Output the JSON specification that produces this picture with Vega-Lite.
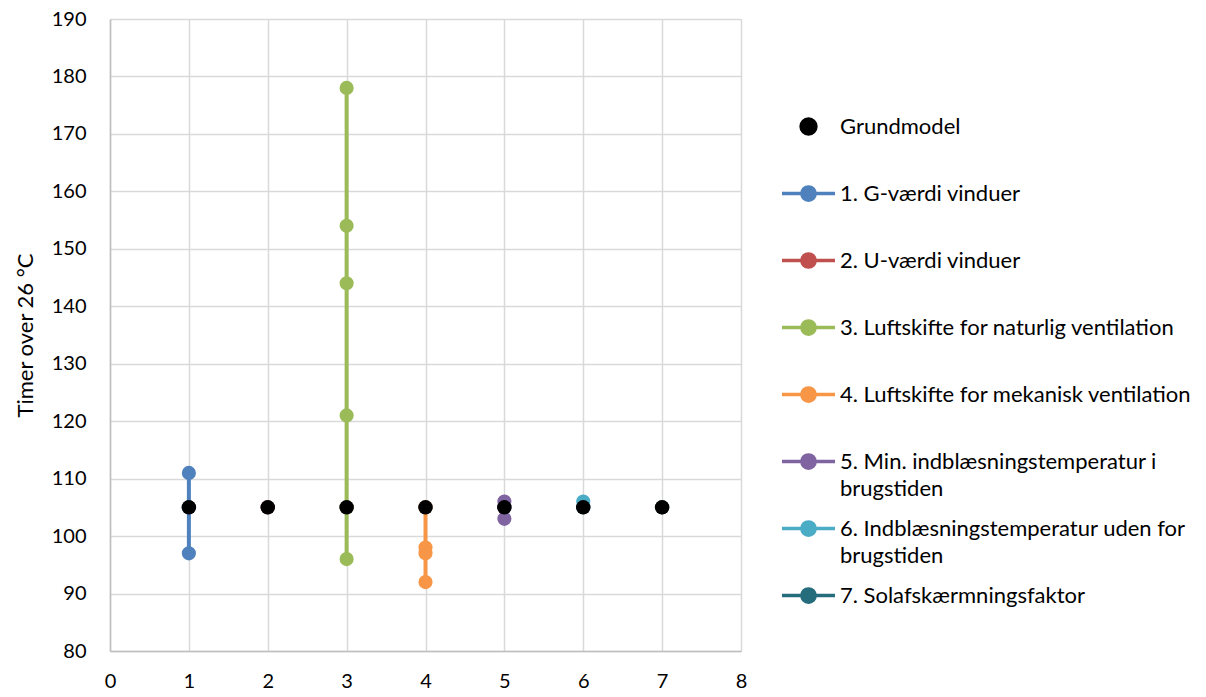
{
  "$schema": "https://vega.github.io/schema/vega-lite/v6.json",
  "autosize": "none",
  "width": 631,
  "height": 632,
  "padding": {"left": 110, "top": 19, "right": 465, "bottom": 46},
  "background": "white",
  "config": {
    "font": "Lato",
    "view": {"stroke": null},
    "axis": {
      "labelFont": "Lato", "labelFontSize": 20, "labelColor": "#000000",
      "titleFont": "Lato", "titleFontSize": 22, "titleFontWeight": "normal", "titleColor": "#000000",
      "gridColor": "#D9D9D9", "gridWidth": 1.5,
      "domainColor": "#BFBFBF", "domainWidth": 1.5,
      "ticks": false
    }
  },
  "data": {
    "values": [
      {"serie": "1. G-værdi vinduer", "x": 1, "y": 111},
      {"serie": "1. G-værdi vinduer", "x": 1, "y": 105},
      {"serie": "1. G-værdi vinduer", "x": 1, "y": 97},
      {"serie": "2. U-værdi vinduer", "x": 2, "y": 105},
      {"serie": "3. Luftskifte for naturlig ventilation", "x": 3, "y": 178},
      {"serie": "3. Luftskifte for naturlig ventilation", "x": 3, "y": 154},
      {"serie": "3. Luftskifte for naturlig ventilation", "x": 3, "y": 144},
      {"serie": "3. Luftskifte for naturlig ventilation", "x": 3, "y": 121},
      {"serie": "3. Luftskifte for naturlig ventilation", "x": 3, "y": 105},
      {"serie": "3. Luftskifte for naturlig ventilation", "x": 3, "y": 96},
      {"serie": "4. Luftskifte for mekanisk ventilation", "x": 4, "y": 105},
      {"serie": "4. Luftskifte for mekanisk ventilation", "x": 4, "y": 98},
      {"serie": "4. Luftskifte for mekanisk ventilation", "x": 4, "y": 97},
      {"serie": "4. Luftskifte for mekanisk ventilation", "x": 4, "y": 92},
      {"serie": "5. Min. indblæsningstemperatur i brugstiden", "x": 5, "y": 106},
      {"serie": "5. Min. indblæsningstemperatur i brugstiden", "x": 5, "y": 105},
      {"serie": "5. Min. indblæsningstemperatur i brugstiden", "x": 5, "y": 103},
      {"serie": "6. Indblæsningstemperatur uden for brugstiden", "x": 6, "y": 106},
      {"serie": "6. Indblæsningstemperatur uden for brugstiden", "x": 6, "y": 105},
      {"serie": "7. Solafskærmningsfaktor", "x": 7, "y": 105},
      {"serie": "Grundmodel", "x": 1, "y": 105},
      {"serie": "Grundmodel", "x": 2, "y": 105},
      {"serie": "Grundmodel", "x": 3, "y": 105},
      {"serie": "Grundmodel", "x": 4, "y": 105},
      {"serie": "Grundmodel", "x": 5, "y": 105},
      {"serie": "Grundmodel", "x": 6, "y": 105},
      {"serie": "Grundmodel", "x": 7, "y": 105}
    ]
  },
  "encoding": {
    "x": {
      "field": "x", "type": "quantitative",
      "scale": {"domain": [0, 8], "nice": false},
      "axis": {"title": null, "values": [0,1,2,3,4,5,6,7,8], "labelPadding": 20, "labelFlush": false}
    },
    "y": {
      "field": "y", "type": "quantitative",
      "scale": {"domain": [80, 190], "nice": false, "zero": false},
      "axis": {"title": "Timer over 26 °C", "values": [80,90,100,110,120,130,140,150,160,170,180,190], "labelPadding": 24, "titlePadding": 14, "labelFlush": false}
    },
    "color": {
      "field": "serie", "type": "nominal",
      "scale": {
        "domain": ["Grundmodel", "1. G-værdi vinduer", "2. U-værdi vinduer", "3. Luftskifte for naturlig ventilation", "4. Luftskifte for mekanisk ventilation", "5. Min. indblæsningstemperatur i brugstiden", "6. Indblæsningstemperatur uden for brugstiden", "7. Solafskærmningsfaktor"],
        "range": ["#000000", "#4F81BD", "#C0504D", "#9BBB59", "#F79646", "#8064A2", "#4BACC6", "#256C7C"]
      },
      "legend": {
        "title": null,
        "orient": "none",
        "legendX": 670,
        "legendY": 79,
        "padding": 0,
        "rowPadding": 0,
        "gridAlign": "all",
        "symbolSize": 2809,
        "labelFont": "Lato",
        "labelFontSize": 22,
        "labelColor": "#000000",
        "labelOffset": 3,
        "labelLimit": 500,
        "labelBaseline": "middle",
        "labelExpr": "datum.label == '5. Min. indblæsningstemperatur i brugstiden' ? ['5. Min. indblæsningstemperatur i', 'brugstiden'] : datum.label == '6. Indblæsningstemperatur uden for brugstiden' ? ['6. Indblæsningstemperatur uden for', 'brugstiden'] : datum.label",
        "encode": {
          "symbols": {
            "update": {
              "shape": {"signal": "datum.value == 'Grundmodel' ? 'M-0.28,0A0.28,0.28 0 1,0 0.28,0A0.28,0.28 0 1,0 -0.28,0Z' : 'M-1,0H1M-0.25,0A0.25,0.25 0 1,0 0.25,0A0.25,0.25 0 1,0 -0.25,0Z'"},
              "size": {"value": 2809},
              "fill": {"scale": "color", "field": "value"},
              "stroke": {"scale": "color", "field": "value"},
              "strokeWidth": {"value": 3.5},
              "opacity": {"value": 1},
              "fillOpacity": {"value": 1},
              "strokeOpacity": {"value": 1}
            }
          },
          "labels": {
            "update": {
              "lineHeight": {"value": 27},
              "dy": {"signal": "isArray(datum.label) ? 13.5 : 0"}
            }
          }
        }
      }
    }
  },
  "layer": [
    {
      "transform": [{"filter": "datum.serie != 'Grundmodel'"}],
      "mark": {"type": "line", "strokeWidth": 4},
      "encoding": {"order": {"field": "y", "type": "quantitative"}}
    },
    {
      "transform": [{"filter": "datum.serie != 'Grundmodel'"}],
      "mark": {"type": "point", "filled": true, "opacity": 1, "size": 200}
    },
    {
      "transform": [{"filter": "datum.serie == 'Grundmodel'"}],
      "mark": {"type": "point", "filled": true, "opacity": 1, "size": 210}
    }
  ]
}
